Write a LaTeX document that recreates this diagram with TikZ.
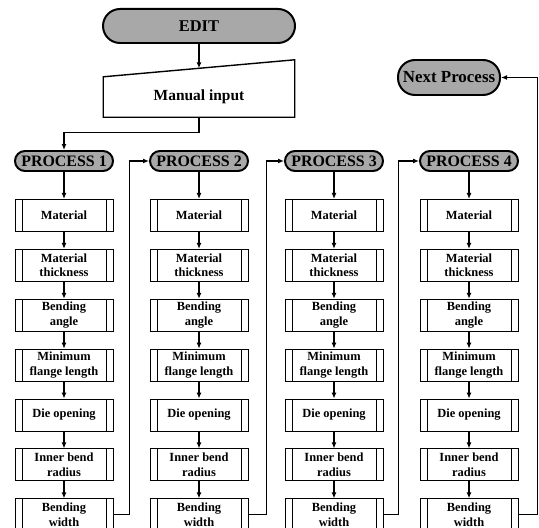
\documentclass[tikz,border=0pt]{standalone}
\usepackage{fontspec}
\setmainfont{Liberation Serif}
\usepackage{tikz}
\usetikzlibrary{arrows.meta, positioning, calc}
\definecolor{termgray}{RGB}{168,168,168}

\begin{document}
\begin{tikzpicture}[
    x=1bp, y=-1bp,
    node distance=17bp,
    terminal/.style={
        rectangle, rounded corners=10bp,
        minimum width=98bp, minimum height=20bp,
        inner sep=0pt, text centered,
        draw=black, line width=2pt, fill=termgray,
        font=\fontsize{16}{16}\selectfont\bfseries
    },
    predef/.style={
        rectangle,
        minimum width=98bp, minimum height=32bp,
        inner sep=1pt, text centered, align=center,
        draw=black, line width=0.9pt,
        font=\fontsize{12.5}{14.5}\selectfont\bfseries,
        path picture={
            \draw[line width=0.6pt] ([xshift=7bp]path picture bounding box.north west) -- ([xshift=7bp]path picture bounding box.south west);
            \draw[line width=0.6pt] ([xshift=-7bp]path picture bounding box.north east) -- ([xshift=-7bp]path picture bounding box.south east);
        }
    },
    arrow/.style={-{Latex[length=6bp, width=5bp]}, line width=1.2pt}
]
\useasboundingbox (0,0) rectangle (539,528);

% --- start and manual input ---
\node[terminal, minimum width=192bp, minimum height=34bp, rounded corners=17bp,
      font=\fontsize{16.5}{16.5}\selectfont\bfseries] (edit) at (199,26) {EDIT};
\node[minimum width=191bp, minimum height=40bp, inner sep=0pt,
      font=\fontsize{15.5}{15.5}\selectfont\bfseries] (manual) at (199,97) {Manual input};
\draw[line width=1.4pt] (manual.south west) -- (manual.south east)
    -- ([yshift=17bp]manual.north east) -- (manual.north west) -- cycle;
\coordinate (mtop) at ([yshift=8.5bp]manual.north);

% --- process headers at coordinates ---
\node[terminal] (proc1) at (64,161)  {PROCESS 1};
\node[terminal] (proc2) at (199,161) {PROCESS 2};
\node[terminal] (proc3) at (334,161) {PROCESS 3};
\node[terminal] (proc4) at (469,161) {PROCESS 4};

\node[terminal, minimum width=102bp, minimum height=35bp, rounded corners=17bp,
      font=\fontsize{17}{17}\selectfont\bfseries] (next) at (449,77.5) {Next Process};

% --- column 1 ---
\node[predef, below=27bp of proc1] (mat1)    {Material};
\node[predef, below=of mat1]       (thick1)  {Material\\thickness};
\node[predef, below=of thick1]     (angle1)  {Bending\\angle};
\node[predef, below=of angle1]     (flange1) {Minimum\\flange length};
\node[predef, below=of flange1]    (die1)    {Die opening};
\node[predef, below=of die1]       (radius1) {Inner bend\\radius};
\node[predef, below=of radius1]    (width1)  {Bending\\width};

% --- column 2 ---
\node[predef, below=27bp of proc2] (mat2)    {Material};
\node[predef, below=of mat2]       (thick2)  {Material\\thickness};
\node[predef, below=of thick2]     (angle2)  {Bending\\angle};
\node[predef, below=of angle2]     (flange2) {Minimum\\flange length};
\node[predef, below=of flange2]    (die2)    {Die opening};
\node[predef, below=of die2]       (radius2) {Inner bend\\radius};
\node[predef, below=of radius2]    (width2)  {Bending\\width};

% --- column 3 ---
\node[predef, below=27bp of proc3] (mat3)    {Material};
\node[predef, below=of mat3]       (thick3)  {Material\\thickness};
\node[predef, below=of thick3]     (angle3)  {Bending\\angle};
\node[predef, below=of angle3]     (flange3) {Minimum\\flange length};
\node[predef, below=of flange3]    (die3)    {Die opening};
\node[predef, below=of die3]       (radius3) {Inner bend\\radius};
\node[predef, below=of radius3]    (width3)  {Bending\\width};

% --- column 4 ---
\node[predef, below=27bp of proc4] (mat4)    {Material};
\node[predef, below=of mat4]       (thick4)  {Material\\thickness};
\node[predef, below=of thick4]     (angle4)  {Bending\\angle};
\node[predef, below=of angle4]     (flange4) {Minimum\\flange length};
\node[predef, below=of flange4]    (die4)    {Die opening};
\node[predef, below=of die4]       (radius4) {Inner bend\\radius};
\node[predef, below=of radius4]    (width4)  {Bending\\width};

% --- arrows ---
\draw[arrow] (edit.south) -- (mtop);
\draw[arrow] (manual.south) -- ++(0,15) -| (proc1.north);

\draw[arrow] (proc1) -- (mat1);
\draw[arrow] (mat1) -- (thick1);
\draw[arrow] (thick1) -- (angle1);
\draw[arrow] (angle1) -- (flange1);
\draw[arrow] (flange1) -- (die1);
\draw[arrow] (die1) -- (radius1);
\draw[arrow] (radius1) -- (width1);

\draw[arrow] (proc2) -- (mat2);
\draw[arrow] (mat2) -- (thick2);
\draw[arrow] (thick2) -- (angle2);
\draw[arrow] (angle2) -- (flange2);
\draw[arrow] (flange2) -- (die2);
\draw[arrow] (die2) -- (radius2);
\draw[arrow] (radius2) -- (width2);

\draw[arrow] (proc3) -- (mat3);
\draw[arrow] (mat3) -- (thick3);
\draw[arrow] (thick3) -- (angle3);
\draw[arrow] (angle3) -- (flange3);
\draw[arrow] (flange3) -- (die3);
\draw[arrow] (die3) -- (radius3);
\draw[arrow] (radius3) -- (width3);

\draw[arrow] (proc4) -- (mat4);
\draw[arrow] (mat4) -- (thick4);
\draw[arrow] (thick4) -- (angle4);
\draw[arrow] (angle4) -- (flange4);
\draw[arrow] (flange4) -- (die4);
\draw[arrow] (die4) -- (radius4);
\draw[arrow] (radius4) -- (width4);

% --- from one process to the next ---
\draw[arrow] (width1.east) -- ++(16,0) |- (proc2.west);
\draw[arrow] (width2.east) -- ++(18,0) |- (proc3.west);
\draw[arrow] (width3.east) -- ++(15,0) |- (proc4.west);
\draw[arrow] (width4.east) -- ++(19,0) |- (next.east);

\end{tikzpicture}
\end{document}
